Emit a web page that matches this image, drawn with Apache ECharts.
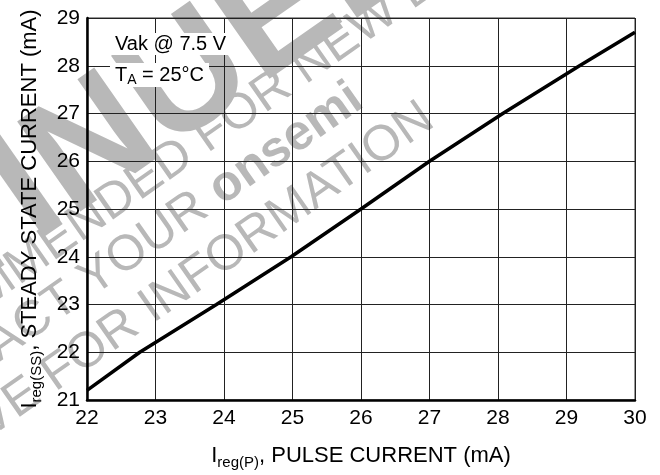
<!DOCTYPE html>
<html>
<head>
<meta charset="utf-8">
<script src="https://cdn.jsdelivr.net/npm/echarts@6/dist/echarts.min.js"></script>
<style>
  html, body { margin: 0; padding: 0; background: #fff; }
  #main { width: 660px; height: 475px; }
</style>
</head>
<body>
<div id="main"></div>
<script>
  var dom = document.getElementById('main');
  var myChart = echarts.init(dom, null, { renderer: 'canvas' });

  // pulse current (mA) -> steady state current (mA)
  var pulseCurrent = [22, 22.77, 23.89, 24.98, 26.0, 27.0, 28.07, 29.19, 30];
  var steadyCurrent = [21.2, 22, 23, 24, 25, 26, 27, 28, 28.7];

  var xTicks = [22, 30];
  var yTicks = [21, 29];

  var noteLine1 = 'Vak @ 7.5 V';
  var bigMark = 'DISCONTINUED';
  var watermark = [
    'NOT RECOMMENDED FOR NEW DESIGN',
    'CONTACT YOUR {b|onsemi}',
    'REPRESENTATIVE FOR INFORMATION'
  ];

  var font = 'Liberation Sans, Arial, Helvetica, sans-serif';
  var ang = 35 * Math.PI / 180;
  var wmGray = '#b8b8b8';

  var seriesData = pulseCurrent.map(function (x, i) {
    return [x, steadyCurrent[i]];
  });

  // watermark lines, placed by a centre point on each rotated line
  var wmPos = [[161, 169], [118, 262], [51, 378]];
  var wmElements = watermark.map(function (t, i) {
    return {
      type: 'text',
      x: wmPos[i][0],
      y: wmPos[i][1],
      rotation: ang,
      z: 1,
      silent: true,
      style: {
        text: t,
        fill: wmGray,
        font: '50px ' + font,
        align: 'center',
        verticalAlign: 'middle',
        rich: {
          b: { fontSize: 50, fontWeight: 'bold', fill: wmGray, fontFamily: font }
        }
      }
    };
  });
  wmElements.push({
    type: 'text',
    x: -580,
    y: 620,
    rotation: ang,
    z: 1,
    silent: true,
    style: {
      text: bigMark,
      fill: wmGray,
      font: 'bold 160px ' + font,
      align: 'left',
      verticalAlign: 'middle'
    }
  });

  var option = {
    animation: false,
    backgroundColor: '#fff',
    grid: {
      left: 87,
      right: 25,
      top: 18,
      bottom: 73,
      show: true,
      borderColor: '#333',
      borderWidth: 1,
      z: 5
    },
    xAxis: {
      type: 'value',
      min: xTicks[0],
      max: xTicks[1],
      interval: 1,
      z: 5,
      name: '{a|I}{s|reg(P)}{a|, PULSE CURRENT (mA)}',
      nameLocation: 'middle',
      nameGap: 42,
      nameTextStyle: {
        rich: {
          a: { fontSize: 22, fontFamily: font, color: '#000' },
          s: { fontSize: 15, fontFamily: font, color: '#000', padding: [13, 0, 0, 0] }
        }
      },
      axisLine: { lineStyle: { color: '#000', width: 2.5 } },
      axisTick: { show: false },
      axisLabel: { fontSize: 21, fontFamily: font, color: '#000', margin: 8 },
      splitLine: { lineStyle: { color: '#222', width: 1 } }
    },
    yAxis: {
      type: 'value',
      min: yTicks[0],
      max: yTicks[1],
      interval: 1,
      z: 5,
      name: '{a|I}{s|reg(SS)}{a|, STEADY STATE CURRENT (mA)}',
      nameLocation: 'middle',
      nameGap: 43,
      nameTextStyle: {
        rich: {
          a: { fontSize: 22, fontFamily: font, color: '#000' },
          s: { fontSize: 15, fontFamily: font, color: '#000', padding: [13, 0, 0, 0] }
        }
      },
      axisLine: { lineStyle: { color: '#000', width: 2.5 } },
      axisTick: { show: false },
      axisLabel: { fontSize: 21, fontFamily: font, color: '#000', margin: 7 },
      splitLine: { lineStyle: { color: '#222', width: 1 } }
    },
    graphic: {
      elements: wmElements.concat([
        {
          type: 'text',
          left: 110,
          top: 33,
          z: 20,
          style: {
            text: noteLine1,
            font: '20px ' + font,
            fill: '#000',
            backgroundColor: '#fff',
            padding: [1, 5, 1, 5]
          }
        },
        {
          type: 'text',
          left: 110,
          top: 63,
          z: 20,
          style: {
            text: '{a|T}{s|A}{a| = 25°C}',
            fill: '#000',
            backgroundColor: '#fff',
            padding: [0, 5, 0, 5],
            rich: {
              a: { fontSize: 20, fontFamily: font, fill: '#000' },
              s: { fontSize: 14, fontFamily: font, fill: '#000', padding: [10, 0, 0, 0] }
            }
          }
        }
      ])
    },
    series: [
      {
        type: 'line',
        data: seriesData,
        symbol: 'none',
        z: 30,
        lineStyle: { color: '#000', width: 3.5 }
      }
    ]
  };

  myChart.setOption(option);
</script>
</body>
</html>
